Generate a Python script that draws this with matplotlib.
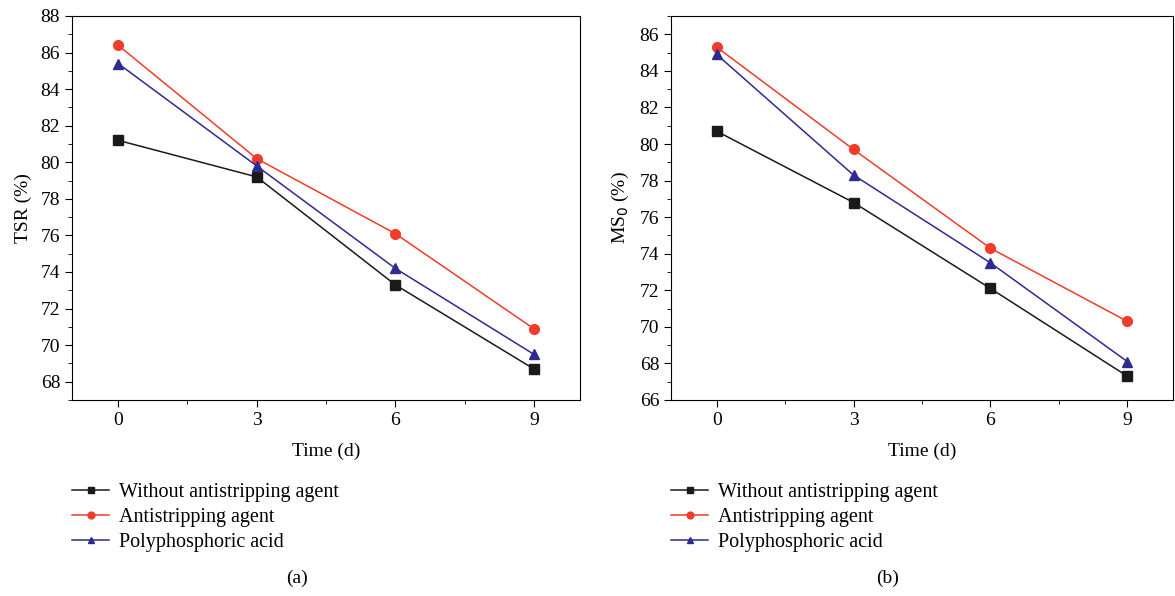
import matplotlib.pyplot as plt
from matplotlib.ticker import MultipleLocator

plt.rcParams['font.family'] = ['Liberation Serif', 'DejaVu Serif']

days = [0, 3, 6, 9]
series_names = ["Without antistripping agent", "Antistripping agent", "Polyphosphoric acid"]

tsr_without = [81.2, 79.2, 73.3, 68.7]
tsr_anti = [86.4, 80.2, 76.1, 70.9]
tsr_ppa = [85.4, 79.8, 74.2, 69.5]

ms0_without = [80.7, 76.8, 72.1, 67.3]
ms0_anti = [85.3, 79.7, 74.3, 70.3]
ms0_ppa = [84.9, 78.3, 73.5, 68.1]

colors = ['#1a1a1a', '#f03c28', '#2e2a90']
markers = ['s', 'o', '^']

fig = plt.figure(figsize=(11.75, 5.96), dpi=100)
ax1 = fig.add_axes([72 / 1175, 1 - 400 / 596, 508 / 1175, 384 / 596])
ax2 = fig.add_axes([671 / 1175, 1 - 400 / 596, 502 / 1175, 384 / 596])


def draw(ax, data, ylim, ylabel, caption, cap_x):
    for vals, name, c, m in zip(data, series_names, colors, markers):
        ax.plot(days, vals, color=c, marker=m, markersize=7, linewidth=1.1, label=name)
    ax.set_xlim(-1, 10)
    ax.set_ylim(*ylim)
    ax.set_xticks(days)
    ax.xaxis.set_minor_locator(MultipleLocator(1.5))
    ax.yaxis.set_major_locator(MultipleLocator(2))
    ax.yaxis.set_minor_locator(MultipleLocator(1))
    ax.tick_params(which='both', direction='out', top=False, right=False, labelsize=14)
    ax.tick_params(which='major', length=5)
    ax.tick_params(which='minor', length=3)
    ax.set_xlabel("Time (d)", fontsize=14, labelpad=10)
    ax.set_ylabel(ylabel, fontsize=14, labelpad=6)
    ax.legend(loc='upper left', bbox_to_anchor=(0.0, -0.216), frameon=False,
              fontsize=14.5, handlelength=1.85, labelspacing=0.3, handletextpad=0.5,
              borderpad=0, borderaxespad=0, markerscale=0.7)
    fig.text(cap_x, 18 / 596, caption, fontsize=14, ha='center', va='center')


draw(ax1, [tsr_without, tsr_anti, tsr_ppa], (67, 88), "TSR (%)", "(a)", 297 / 1175)
draw(ax2, [ms0_without, ms0_anti, ms0_ppa], (66, 87), "MS$_0$ (%)", "(b)", 888 / 1175)

fig.savefig("out.png", dpi=100)
